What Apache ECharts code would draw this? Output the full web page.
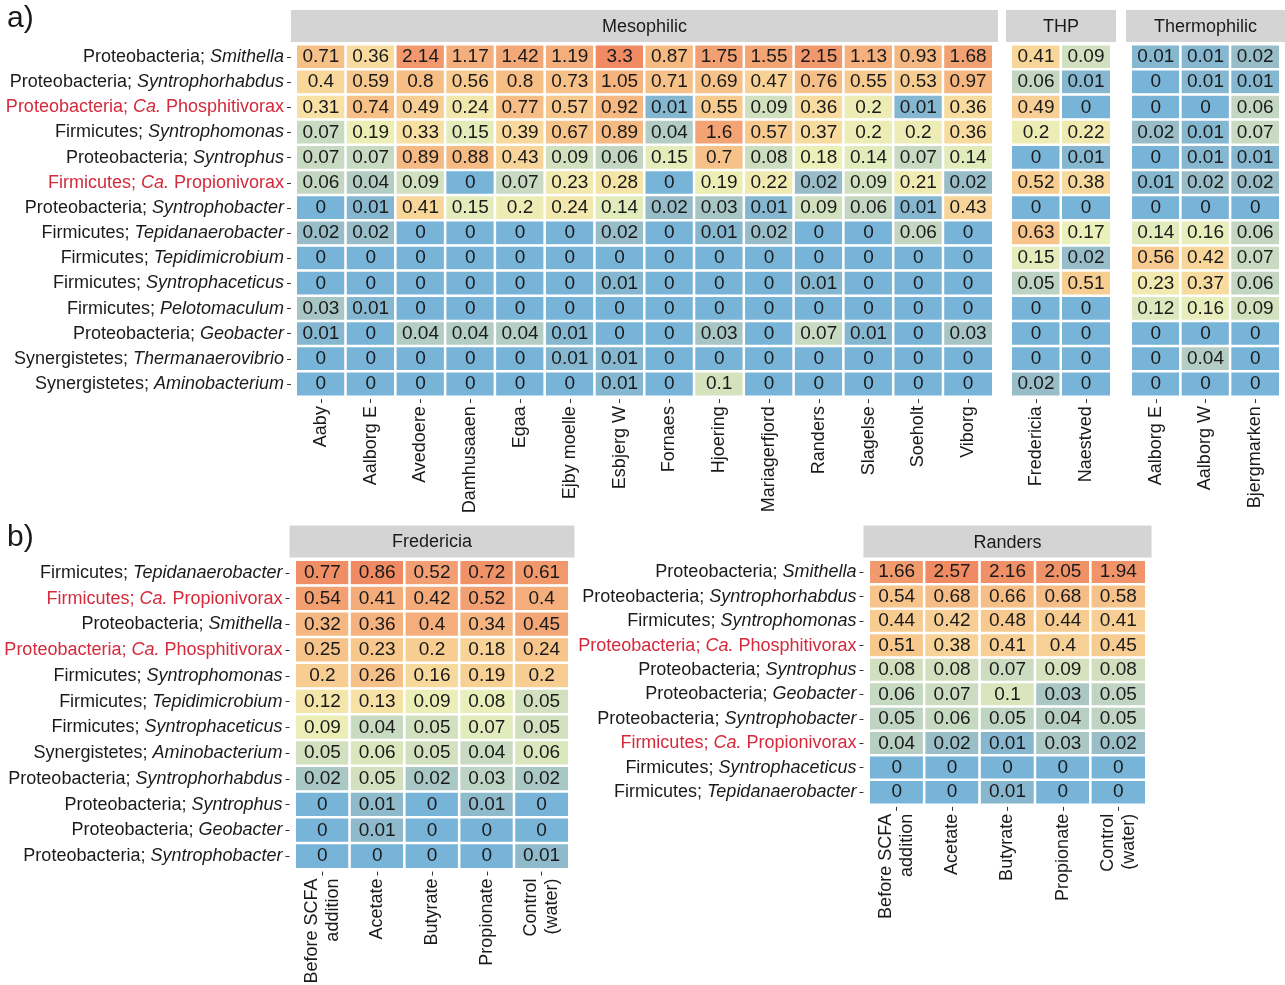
<!DOCTYPE html>
<html>
<head>
<meta charset="utf-8">
<script src="https://cdn.jsdelivr.net/npm/echarts@6/dist/echarts.min.js"></script>
<style>
  html, body { margin: 0; padding: 0; background: #fff; }
  #chart { width: 1285px; height: 985px; }
</style>
</head>
<body>
<div id="chart"></div>
<script>
// ---- a) survey of full-scale digesters ----
const taxaA = [
  'Proteobacteria; Smithella',
  'Proteobacteria; Syntrophorhabdus',
  'Proteobacteria; Ca. Phosphitivorax',
  'Firmicutes; Syntrophomonas',
  'Proteobacteria; Syntrophus',
  'Firmicutes; Ca. Propionivorax',
  'Proteobacteria; Syntrophobacter',
  'Firmicutes; Tepidanaerobacter',
  'Firmicutes; Tepidimicrobium',
  'Firmicutes; Syntrophaceticus',
  'Firmicutes; Pelotomaculum',
  'Proteobacteria; Geobacter',
  'Synergistetes; Thermanaerovibrio',
  'Synergistetes; Aminobacterium'
];

const mesophilicSites = ['Aaby', 'Aalborg E', 'Avedoere', 'Damhusaaen', 'Egaa', 'Ejby moelle',
  'Esbjerg W', 'Fornaes', 'Hjoering', 'Mariagerfjord', 'Randers', 'Slagelse', 'Soeholt', 'Viborg'];
const thpSites = ['Fredericia', 'Naestved'];
const thermophilicSites = ['Aalborg E', 'Aalborg W', 'Bjergmarken'];

// one row per taxon, one column per site (relative abundance, %)
const mesophilicValues = [
  [0.71, 0.36, 2.14, 1.17, 1.42, 1.19, 3.3, 0.87, 1.75, 1.55, 2.15, 1.13, 0.93, 1.68],
  [0.4, 0.59, 0.8, 0.56, 0.8, 0.73, 1.05, 0.71, 0.69, 0.47, 0.76, 0.55, 0.53, 0.97],
  [0.31, 0.74, 0.49, 0.24, 0.77, 0.57, 0.92, 0.01, 0.55, 0.09, 0.36, 0.2, 0.01, 0.36],
  [0.07, 0.19, 0.33, 0.15, 0.39, 0.67, 0.89, 0.04, 1.6, 0.57, 0.37, 0.2, 0.2, 0.36],
  [0.07, 0.07, 0.89, 0.88, 0.43, 0.09, 0.06, 0.15, 0.7, 0.08, 0.18, 0.14, 0.07, 0.14],
  [0.06, 0.04, 0.09, 0, 0.07, 0.23, 0.28, 0, 0.19, 0.22, 0.02, 0.09, 0.21, 0.02],
  [0, 0.01, 0.41, 0.15, 0.2, 0.24, 0.14, 0.02, 0.03, 0.01, 0.09, 0.06, 0.01, 0.43],
  [0.02, 0.02, 0, 0, 0, 0, 0.02, 0, 0.01, 0.02, 0, 0, 0.06, 0],
  [0, 0, 0, 0, 0, 0, 0, 0, 0, 0, 0, 0, 0, 0],
  [0, 0, 0, 0, 0, 0, 0.01, 0, 0, 0, 0.01, 0, 0, 0],
  [0.03, 0.01, 0, 0, 0, 0, 0, 0, 0, 0, 0, 0, 0, 0],
  [0.01, 0, 0.04, 0.04, 0.04, 0.01, 0, 0, 0.03, 0, 0.07, 0.01, 0, 0.03],
  [0, 0, 0, 0, 0, 0.01, 0.01, 0, 0, 0, 0, 0, 0, 0],
  [0, 0, 0, 0, 0, 0, 0.01, 0, 0.1, 0, 0, 0, 0, 0]
];
const thpValues = [
  [0.41, 0.09], [0.06, 0.01], [0.49, 0], [0.2, 0.22], [0, 0.01], [0.52, 0.38], [0, 0],
  [0.63, 0.17], [0.15, 0.02], [0.05, 0.51], [0, 0], [0, 0], [0, 0], [0.02, 0]
];
const thermophilicValues = [
  [0.01, 0.01, 0.02], [0, 0.01, 0.01], [0, 0, 0.06], [0.02, 0.01, 0.07], [0, 0.01, 0.01],
  [0.01, 0.02, 0.02], [0, 0, 0], [0.14, 0.16, 0.06], [0.56, 0.42, 0.07], [0.23, 0.37, 0.06],
  [0.12, 0.16, 0.09], [0, 0, 0], [0, 0.04, 0], [0, 0, 0]
];

// ---- b) SCFA-spiking batch incubations ----
const treatments = ['Before SCFA\naddition', 'Acetate', 'Butyrate', 'Propionate', 'Control\n(water)'];

const taxaFredericia = [
  'Firmicutes; Tepidanaerobacter',
  'Firmicutes; Ca. Propionivorax',
  'Proteobacteria; Smithella',
  'Proteobacteria; Ca. Phosphitivorax',
  'Firmicutes; Syntrophomonas',
  'Firmicutes; Tepidimicrobium',
  'Firmicutes; Syntrophaceticus',
  'Synergistetes; Aminobacterium',
  'Proteobacteria; Syntrophorhabdus',
  'Proteobacteria; Syntrophus',
  'Proteobacteria; Geobacter',
  'Proteobacteria; Syntrophobacter'
];
const fredericiaValues = [
  [0.77, 0.86, 0.52, 0.72, 0.61],
  [0.54, 0.41, 0.42, 0.52, 0.4],
  [0.32, 0.36, 0.4, 0.34, 0.45],
  [0.25, 0.23, 0.2, 0.18, 0.24],
  [0.2, 0.26, 0.16, 0.19, 0.2],
  [0.12, 0.13, 0.09, 0.08, 0.05],
  [0.09, 0.04, 0.05, 0.07, 0.05],
  [0.05, 0.06, 0.05, 0.04, 0.06],
  [0.02, 0.05, 0.02, 0.03, 0.02],
  [0, 0.01, 0, 0.01, 0],
  [0, 0.01, 0, 0, 0],
  [0, 0, 0, 0, 0.01]
];

const taxaRanders = [
  'Proteobacteria; Smithella',
  'Proteobacteria; Syntrophorhabdus',
  'Firmicutes; Syntrophomonas',
  'Proteobacteria; Ca. Phosphitivorax',
  'Proteobacteria; Syntrophus',
  'Proteobacteria; Geobacter',
  'Proteobacteria; Syntrophobacter',
  'Firmicutes; Ca. Propionivorax',
  'Firmicutes; Syntrophaceticus',
  'Firmicutes; Tepidanaerobacter'
];
const randersValues = [
  [1.66, 2.57, 2.16, 2.05, 1.94],
  [0.54, 0.68, 0.66, 0.68, 0.58],
  [0.44, 0.42, 0.48, 0.44, 0.41],
  [0.51, 0.38, 0.41, 0.4, 0.45],
  [0.08, 0.08, 0.07, 0.09, 0.08],
  [0.06, 0.07, 0.1, 0.03, 0.05],
  [0.05, 0.06, 0.05, 0.04, 0.05],
  [0.04, 0.02, 0.01, 0.03, 0.02],
  [0, 0, 0, 0, 0],
  [0, 0, 0.01, 0, 0]
];

// ---- styling ----
const FONT = "'Liberation Sans', Arial, Helvetica, sans-serif";
const TEXT = '#1a1a1a';
const RED = '#d42a3b';
const STRIP = '#d4d4d4';
// log-scaled abundance palette (blue = absent, red = most abundant in the panel)
const PALETTE = ['#78b4d8', '#80b5d2', '#9bbec7', '#bad1c3', '#d2e0bf', '#eaf0ba',
  '#f8e1a4', '#f7c98e', '#f5b47f', '#f29e71', '#ef8a62'];

const maxOf = arrs => Math.max(...arrs.flat(2));
const logPos = (v, vmax) => (Math.log10(v + 0.01) + 2) / (Math.log10(vmax + 0.01) + 2);

function toCells(values, vmax) {
  const out = [];
  values.forEach((row, r) => row.forEach((v, c) => out.push([c, r, v, logPos(v, vmax)])));
  return out;
}

function taxonLabel(name) {
  const parts = name.split('; ');
  const phylum = parts[0], genus = parts[1];
  if (genus.startsWith('Ca. ')) {
    return '{r|' + phylum + '; }{ri|Ca.}{r|' + genus.slice(3) + '}';
  }
  return '{n|' + phylum + '; }{i|' + genus + '}';
}
const richLabel = {
  n: { color: TEXT, fontSize: 18, fontFamily: FONT },
  i: { color: TEXT, fontSize: 18, fontFamily: FONT, fontStyle: 'italic' },
  r: { color: RED, fontSize: 18, fontFamily: FONT },
  ri: { color: RED, fontSize: 18, fontFamily: FONT, fontStyle: 'italic' }
};

const maxA = maxOf([mesophilicValues, thpValues, thermophilicValues]);
const maxF = maxOf([fredericiaValues]);
const maxR = maxOf([randersValues]);

// panel layout: cell area of each heatmap (px); panel adds 0.1 cell of padding each side
const panels = [
  { name: 'Mesophilic', left: 296, top: 44.4, width: 697, height: 352.2, cols: mesophilicSites, rows: taxaA, values: mesophilicValues, vmax: maxA, yLabels: true },
  { name: 'THP', left: 1011, top: 44.4, width: 100, height: 352.2, cols: thpSites, rows: taxaA, values: thpValues, vmax: maxA, yLabels: false },
  { name: 'Thermophilic', left: 1131, top: 44.4, width: 149, height: 352.2, cols: thermophilicSites, rows: taxaA, values: thermophilicValues, vmax: maxA, yLabels: false },
  { name: 'Fredericia', left: 295, top: 560, width: 274, height: 309, cols: treatments, rows: taxaFredericia, values: fredericiaValues, vmax: maxF, yLabels: true },
  { name: 'Randers', left: 869, top: 560, width: 277, height: 244.4, cols: treatments, rows: taxaRanders, values: randersValues, vmax: maxR, yLabels: true }
];
const STRIP_H = 32;

const grid = [], xAxis = [], yAxis = [], series = [], graphic = [];
panels.forEach((p, k) => {
  const padX = 0.1 * p.width / p.cols.length;
  const padY = 0.1 * p.height / p.rows.length;
  grid.push({ left: p.left, top: p.top, width: p.width, height: p.height, outerBoundsMode: 'none' });
  xAxis.push({
    gridIndex: k, type: 'category', data: p.cols, position: 'bottom', offset: padY,
    axisLine: { show: false },
    axisTick: { show: true, alignWithLabel: true, length: 4, lineStyle: { color: '#333', width: 1 } },
    axisLabel: { interval: 0, rotate: 90, margin: 7, fontSize: 18, color: TEXT, fontFamily: FONT, lineHeight: 21 },
    splitLine: { show: false }
  });
  yAxis.push({
    gridIndex: k, type: 'category', data: p.rows, inverse: true, position: 'left', offset: padX,
    axisLine: { show: false },
    axisTick: { show: p.yLabels, alignWithLabel: true, length: 4, lineStyle: { color: '#333', width: 1 } },
    axisLabel: { show: p.yLabels, interval: 0, margin: 7, formatter: taxonLabel, rich: richLabel },
    splitLine: { show: false }
  });
  series.push({
    type: 'heatmap', xAxisIndex: k, yAxisIndex: k,
    data: toCells(p.values, p.vmax),
    itemStyle: { borderColor: '#fff', borderWidth: 2.5 },
    label: {
      show: true, formatter: prm => String(prm.value[2]),
      fontSize: 19, color: TEXT, fontFamily: FONT
    },
    emphasis: { disabled: true }
  });
  // facet strip above the panel
  const sx = p.left - padX, sw = p.width + 2 * padX, sy = p.top - padY - STRIP_H;
  graphic.push({ type: 'rect', shape: { x: sx, y: sy, width: sw, height: STRIP_H }, style: { fill: STRIP }, silent: true });
  graphic.push({
    type: 'text', x: sx + sw / 2, y: sy + STRIP_H / 2 + 1,
    style: { text: p.name, fontSize: 18, fontFamily: FONT, fill: TEXT, align: 'center', verticalAlign: 'middle' }, silent: true
  });
});

// panel tags
graphic.push({ type: 'text', x: 7, y: 4, style: { text: 'a)', fontSize: 30, fontFamily: FONT, fill: TEXT }, silent: true });
graphic.push({ type: 'text', x: 7, y: 523, style: { text: 'b)', fontSize: 30, fontFamily: FONT, fill: TEXT }, silent: true });

const chart = echarts.init(document.getElementById('chart'), null, { renderer: 'canvas' });
chart.setOption({
  animation: false,
  backgroundColor: '#ffffff',
  grid, xAxis, yAxis, series, graphic,
  visualMap: {
    type: 'continuous', show: false, dimension: 3, min: 0, max: 1,
    seriesIndex: [0, 1, 2, 3, 4],
    inRange: { color: PALETTE }
  }
});
</script>
</body>
</html>
